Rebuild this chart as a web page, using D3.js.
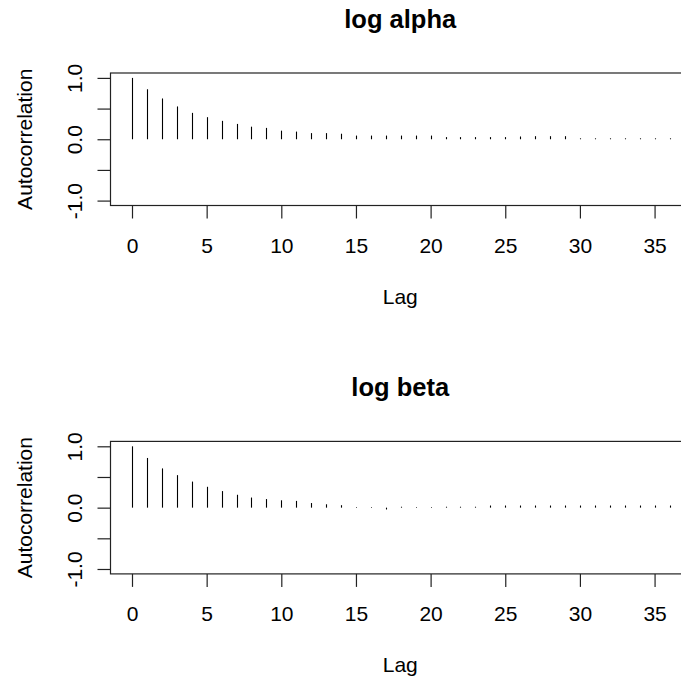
<!DOCTYPE html>
<html>
<head>
<meta charset="utf-8">
<script src="https://cdn.jsdelivr.net/npm/d3@7"></script>
<style>
  html, body { margin: 0; padding: 0; background: #fff; }
  svg { display: block; }
  text { font-family: Arial, "Liberation Sans", sans-serif; fill: #000; }
</style>
</head>
<body>
<div id="chart"></div>
<script>
// ---- Data ----
const lags = [0,1,2,3,4,5,6,7,8,9,10,11,12,13,14,15,16,17,18,19,20,21,22,23,24,25,26,27,28,29,30,31,32,33,34,35,36];
const acfLogAlpha = [1.00, 0.815, 0.665, 0.535, 0.43, 0.36, 0.30, 0.25, 0.205, 0.185, 0.14, 0.125, 0.10, 0.10,
  0.09, 0.06, 0.06, 0.06, 0.06, 0.06, 0.06, 0.035, 0.035, 0.035, 0.035, 0.035, 0.045, 0.05, 0.05, 0.05,
  0.015, 0.015, 0.015, 0.015, 0.015, 0.015, 0.015];
const acfLogBeta = [1.00, 0.81, 0.64, 0.53, 0.425, 0.34, 0.27, 0.21, 0.165, 0.14, 0.12, 0.11, 0.075, 0.055,
  0.04, 0.01, 0.01, -0.03, 0.015, 0.01, 0.01, 0.015, 0.015, 0.015,
  0.035, 0.035, 0.035, 0.035, 0.035, 0.035, 0.035, 0.035, 0.035, 0.035, 0.035, 0.035, 0.035];
const panelTitles = ["log alpha", "log beta"];
const xTicks = [0, 5, 10, 15, 20, 25, 30, 35];
const yTicks = [-1, -0.5, 0, 0.5, 1];
const yTickLabels = ["-1.0", "", "0.0", "", "1.0"];
const xLabel = "Lag";
const yLabel = "Autocorrelation";

// ---- Layout ----
const W = 681, H = 682;
const svg = d3.select("#chart").append("svg").attr("width", W).attr("height", H);
svg.append("rect").attr("width", W).attr("height", H).attr("fill", "#fff");

const plotLeft = 110.5, plotRight = 691;
const plotTop = 73, plotBottom = 205.5;
const panelOffset = 368.4;

const x = d3.scaleLinear().domain([-1.44, 37.44]).range([plotLeft, plotRight]);
const y = d3.scaleLinear().domain([-1.08, 1.08]).range([plotBottom, plotTop]);

const series = [acfLogAlpha, acfLogBeta];

series.forEach((vals, i) => {
  const g = svg.append("g").attr("transform", `translate(0, ${i * panelOffset})`);

  // bars
  g.selectAll("line.bar").data(lags).enter().append("line")
    .attr("class", "bar")
    .attr("x1", d => Math.round(x(d)) + 0.5)
    .attr("x2", d => Math.round(x(d)) + 0.5)
    .attr("y1", y(0))
    .attr("y2", (d, k) => y(vals[k]))
    .attr("stroke", "#000").attr("stroke-width", 1.1);

  // box
  g.append("rect")
    .attr("x", plotLeft).attr("y", plotTop)
    .attr("width", plotRight - plotLeft).attr("height", plotBottom - plotTop)
    .attr("fill", "none").attr("stroke", "#222").attr("stroke-width", 1.2);

  // x axis
  const xAxis = d3.axisBottom(x).tickValues(xTicks).tickSize(13).tickPadding(26)
    .tickFormat(d3.format("d"));
  const xa = g.append("g").attr("transform", `translate(0, ${plotBottom})`).call(xAxis);
  xa.select(".domain").remove();
  xa.selectAll(".tick line").attr("stroke", "#222").attr("stroke-width", 1.2);
  xa.selectAll(".tick text").attr("font-size", 21).attr("font-family", "Arial, 'Liberation Sans', sans-serif")
    .attr("fill", "#111").attr("dy", null).attr("y", 0)
    .attr("transform", "translate(0, 47)");

  // y axis
  const yAxis = d3.axisLeft(y).tickValues(yTicks).tickSize(13).tickFormat((d, k) => yTickLabels[k]);
  const ya = g.append("g").attr("transform", `translate(${plotLeft}, 0)`).call(yAxis);
  ya.select(".domain").remove();
  ya.selectAll(".tick line").attr("stroke", "#222").attr("stroke-width", 1.2);
  ya.selectAll(".tick text")
    .attr("font-size", 21).attr("font-family", "Arial, 'Liberation Sans', sans-serif")
    .attr("fill", "#111")
    .attr("x", null).attr("dy", null)
    .attr("text-anchor", "middle")
    .attr("transform", "translate(-29, 0) rotate(-90)");

  // title
  g.append("text")
    .attr("x", (plotLeft + 690) / 2).attr("y", 28)
    .attr("text-anchor", "middle")
    .attr("font-size", 25.5).attr("font-weight", "bold")
    .text(panelTitles[i]);

  // axis labels
  g.append("text")
    .attr("x", (plotLeft + 690) / 2).attr("y", 304)
    .attr("text-anchor", "middle").attr("font-size", 21).attr("fill", "#111")
    .text(xLabel);

  g.append("text")
    .attr("transform", `translate(31.5, ${(plotTop + plotBottom) / 2}) rotate(-90)`)
    .attr("text-anchor", "middle").attr("font-size", 21).attr("fill", "#111")
    .text(yLabel);
});
</script>
</body>
</html>
